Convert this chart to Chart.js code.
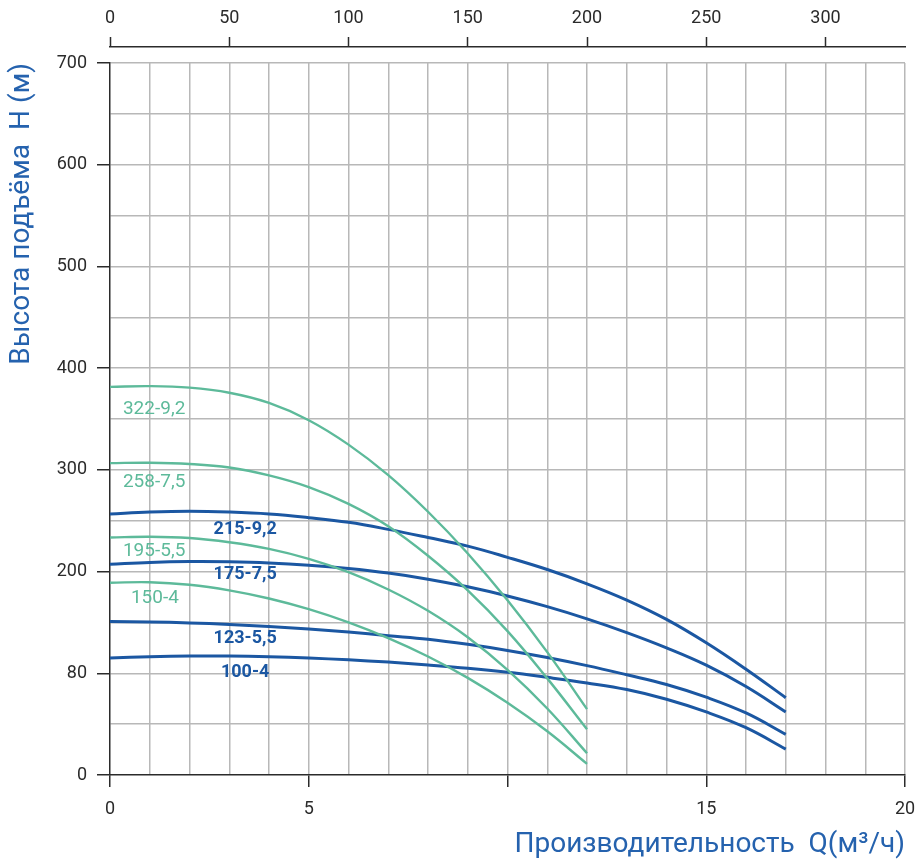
<!DOCTYPE html>
<html>
<head>
<meta charset="utf-8">
<script src="https://cdn.jsdelivr.net/npm/chart.js@4.4.1/dist/chart.umd.min.js"></script>
<style>
  html, body { margin: 0; padding: 0; background: #fff; }
  #wrap { width: 919px; height: 862px; }
</style>
</head>
<body>
<div id="wrap"><canvas id="pumpChart"></canvas></div>
<script>
// Flow Q, m3/h (green pumps stop at 12, blue ones at 17)
const qGreen = [0, 1, 2, 3, 4, 5, 6, 7, 8, 9, 10, 11, 12];
const qBlue = [0, 1, 2, 3, 4, 5, 6, 7, 8, 9, 10, 11, 12, 13, 14, 15, 16, 17];

// Head H, m
const h322 = [381.6, 382.3, 380.8, 375.8, 365.8, 348.8, 324.8, 294.8, 258.8, 217.8, 171.8, 120.8, 64.8];
const h258 = [306.6, 307, 305.8, 302.3, 294.5, 283, 266.5, 244.5, 215.5, 181.5, 141.5, 95, 45];
const h195 = [233.5, 234.3, 233, 228.8, 222.3, 212.5, 199.4, 182.4, 161.4, 135.4, 103.4, 65.4, 21.4];
const h150 = [189, 189.5, 187, 181.5, 173.5, 163, 150, 134.5, 116.5, 95.5, 71, 43, 11];
const h215 = [256.6, 258.5, 259.3, 258.5, 256.6, 253, 248.4, 241.5, 233.5, 225, 214, 202, 188, 172, 153, 130, 104, 76];
const h175 = [207.2, 209, 209.8, 209.6, 208.5, 206.3, 203, 198.5, 192.5, 185, 176, 165.5, 153.5, 140, 125, 108, 87, 62];
const h123 = [151, 150.5, 149.5, 148, 146, 143.5, 140.5, 137, 133.5, 128.5, 122.5, 115.5, 107.5, 98.5, 89, 76.5, 61, 40];
const h100 = [115, 116.3, 117, 117, 116.3, 115, 113.2, 111, 108.2, 105, 101, 96, 90.5, 84, 74.5, 62, 46.5, 25.5];

// Curve names and where their labels sit (Q, H)
const greenNames = ["322-9,2", "258-7,5", "195-5,5", "150-4"];
const blueNames = ["215-9,2", "175-7,5", "123-5,5", "100-4"];
const greenLabelQ = [1.11, 1.11, 1.11, 1.13];
const greenLabelH = [359.5, 288, 219.5, 173.5];
const blueLabelQ = [3.4, 3.4, 3.4, 3.4];
const blueLabelH = [241, 197, 134, 100.7];

// Axis ticks
const xTickValues = [0, 5, 10, 15, 20];
const xTickLabels = ["0", "5", "", "15", "20"];
const yTickValues = [0, 100, 200, 300, 400, 500, 600, 700];
const yTickLabels = ["0", "80", "200", "300", "400", "500", "600", "700"];
const topTickValues = [0, 50, 100, 150, 200, 250, 300];

const GREEN = "#5dba9a";
const BLUE = "#1b57a2";
const TITLE_BLUE = "#2562ae";
const GRID = "#b8b8b8";
const AXIS = "#2b2b2b";
const FONT = "Roboto";

function toPoints(qs, hs) {
  return qs.map((q, i) => ({ x: q, y: hs[i] }));
}

function curve(qs, hs, color, width) {
  return {
    data: toPoints(qs, hs),
    borderColor: color,
    borderWidth: width,
    pointRadius: 0,
    fill: false,
    tension: 0.4,
  };
}

const datasets = [
  curve(qGreen, h322, GREEN, 2.4),
  curve(qGreen, h258, GREEN, 2.4),
  curve(qGreen, h195, GREEN, 2.4),
  curve(qGreen, h150, GREEN, 2.4),
  curve(qBlue, h215, BLUE, 3),
  curve(qBlue, h175, BLUE, 3),
  curve(qBlue, h123, BLUE, 3),
  curve(qBlue, h100, BLUE, 3),
];

// Writes the pump names next to their curves
const curveLabels = {
  id: "curveLabels",
  afterDatasetsDraw(chart) {
    const { ctx, scales } = chart;
    ctx.save();
    ctx.textAlign = "center";
    ctx.textBaseline = "middle";
    ctx.font = "19px " + FONT;
    ctx.fillStyle = GREEN;
    greenNames.forEach((name, i) => {
      ctx.fillText(name, scales.x.getPixelForValue(greenLabelQ[i]), scales.y.getPixelForValue(greenLabelH[i]));
    });
    ctx.font = "bold 18px " + FONT;
    ctx.fillStyle = BLUE;
    blueNames.forEach((name, i) => {
      ctx.fillText(name, scales.x.getPixelForValue(blueLabelQ[i]), scales.y.getPixelForValue(blueLabelH[i]));
    });
    ctx.restore();
  },
};

const tickFont = { family: FONT, size: 18 };

new Chart(document.getElementById("pumpChart"), {
  type: "line",
  data: { datasets: datasets },
  options: {
    responsive: true,
    maintainAspectRatio: false,
    animation: false,
    layout: { padding: { left: 0, right: 14, top: 0, bottom: 0 } },
    plugins: {
      legend: { display: false },
      tooltip: { enabled: false },
    },
    scales: {
      x: {
        type: "linear",
        position: "bottom",
        min: 0,
        max: 20,
        ticks: {
          stepSize: 1,
          autoSkip: false,
          maxRotation: 0,
          padding: 12,
          color: AXIS,
          font: tickFont,
          callback: (v) => {
            const i = xTickValues.indexOf(v);
            return i >= 0 ? xTickLabels[i] : "";
          },
        },
        grid: {
          color: (c) => (c.tick && c.tick.value === 0 ? "transparent" : GRID),
          lineWidth: 1.5,
          tickLength: 12,
          tickWidth: 1.5,
          tickColor: (c) => (c.tick && xTickValues.includes(c.tick.value) ? AXIS : "transparent"),
        },
        border: { color: AXIS, width: 1.5 },
        title: {
          display: true,
          text: "Производительность  Q(м³/ч)",
          align: "end",
          color: TITLE_BLUE,
          font: { family: FONT, size: 28 },
          padding: { top: 0, bottom: 0 },
        },
        afterFit(scale) {
          scale.height = 87;
          scale.paddingRight = 0;
        },
      },
      xGap: {
        type: "linear",
        position: "top",
        weight: 1,
        min: 0,
        max: 1,
        ticks: { display: false },
        grid: { display: false },
        border: { display: false },
        afterFit(scale) { scale.height = 16; },
      },
      xTop: {
        type: "linear",
        position: "top",
        weight: 2,
        min: 0,
        max: 20 * 1000 / 60,
        ticks: {
          stepSize: 50,
          includeBounds: false,
          autoSkip: false,
          maxRotation: 0,
          padding: 8,
          color: AXIS,
          font: tickFont,
          callback: (v) => (topTickValues.includes(v) ? String(v) : ""),
        },
        grid: {
          drawOnChartArea: false,
          tickLength: 10,
          tickWidth: 1.5,
          tickColor: AXIS,
        },
        border: { color: AXIS, width: 1.5 },
        afterFit(scale) {
          scale.height = 47;
          scale.paddingRight = 0;
        },
      },
      y: {
        type: "linear",
        min: 0,
        max: 700,
        ticks: {
          stepSize: 50,
          autoSkip: false,
          padding: 10,
          color: AXIS,
          font: tickFont,
          callback: (v) => {
            const i = yTickValues.indexOf(v);
            return i >= 0 ? yTickLabels[i] : "";
          },
        },
        grid: {
          color: (c) => (c.tick && c.tick.value === 0 ? "transparent" : GRID),
          lineWidth: 1.5,
          tickLength: 13,
          tickWidth: 1.5,
          tickColor: (c) => (c.tick && yTickValues.includes(c.tick.value) ? AXIS : "transparent"),
        },
        border: { color: AXIS, width: 1.5 },
        title: {
          display: true,
          text: "Высота подъёма  H (м)",
          align: "end",
          color: TITLE_BLUE,
          font: { family: FONT, size: 28 },
          padding: { top: 5, bottom: 0 },
        },
        afterFit(scale) { scale.width = 110; },
      },
    },
  },
  plugins: [curveLabels],
});
</script>
</body>
</html>
